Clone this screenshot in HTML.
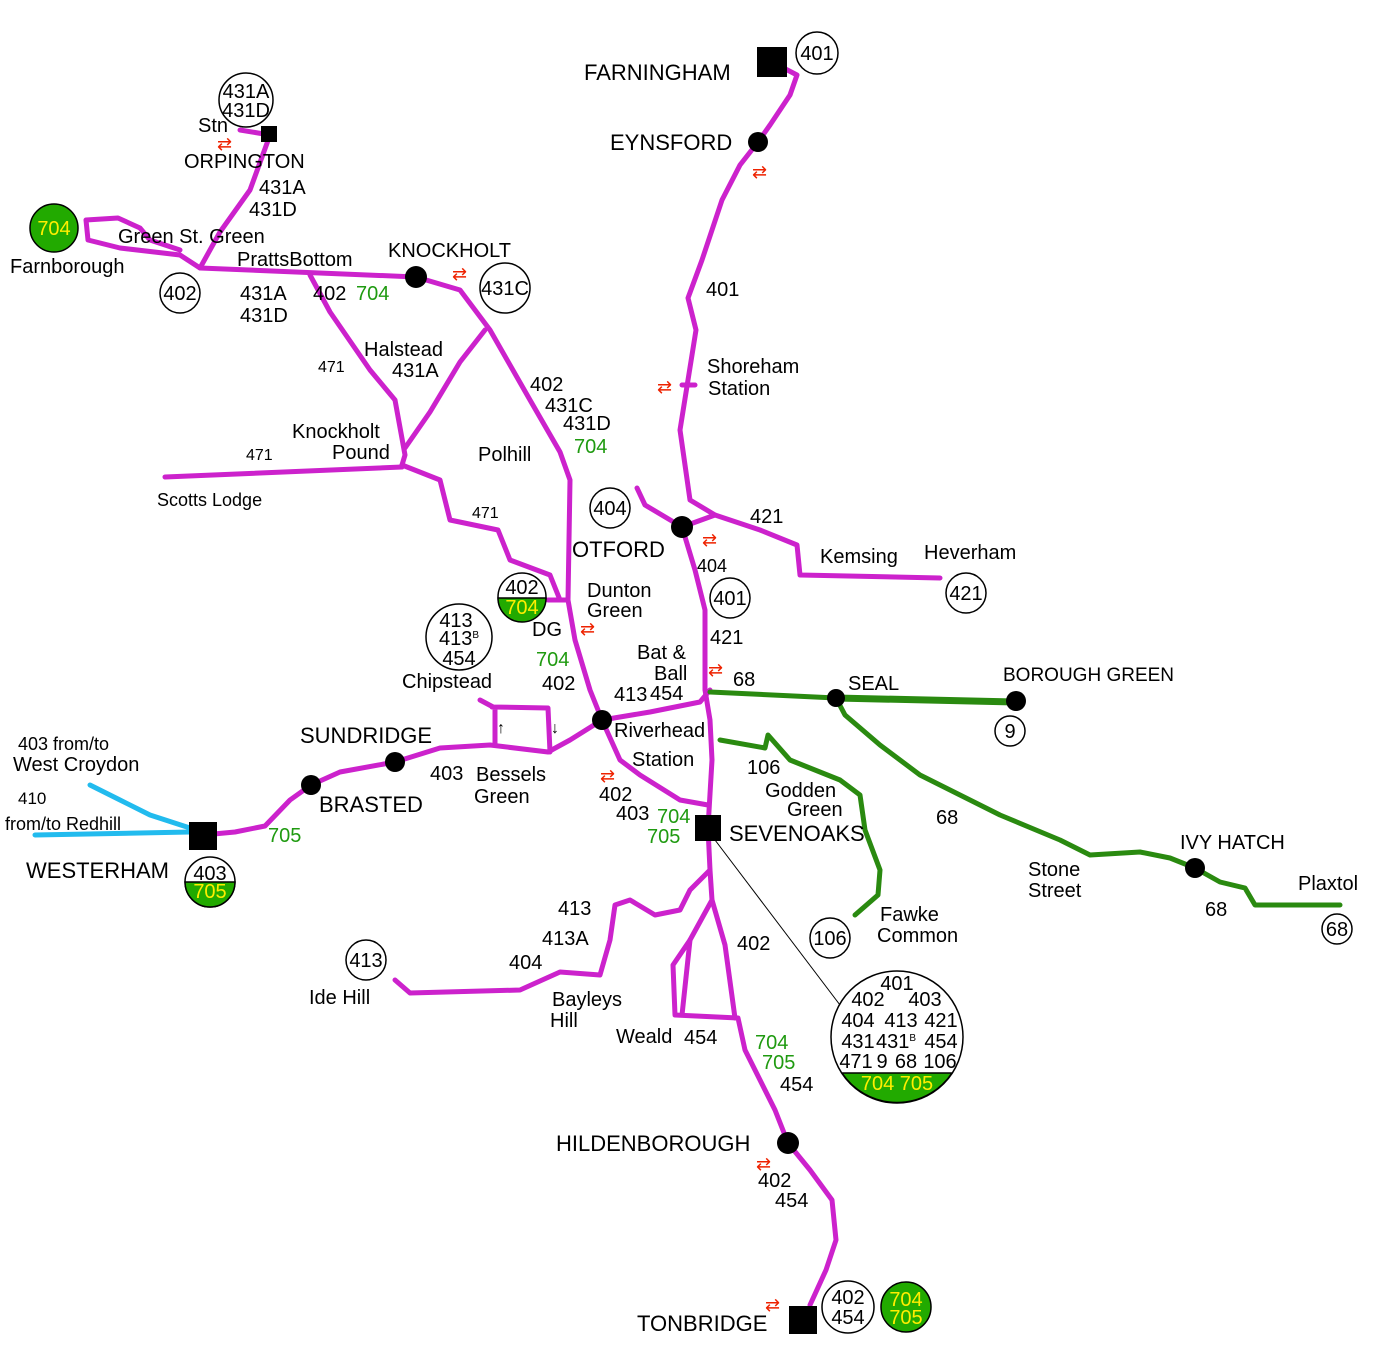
<!DOCTYPE html>
<html><head><meta charset="utf-8"><style>
body{margin:0;background:#fff}
svg text{font-family:"Liberation Sans","DejaVu Sans",sans-serif;font-size:20px;fill:#000}
.m{fill:none;stroke:#cc22cc;stroke-width:5;stroke-linejoin:round;stroke-linecap:round}
.g{fill:none;stroke:#2a8a10;stroke-width:5;stroke-linejoin:round;stroke-linecap:round}
.c{fill:none;stroke:#22bbee;stroke-width:5;stroke-linejoin:round;stroke-linecap:round}
.r{fill:#ee2200;font-size:18px}
.gt{fill:#1f9a10}
.yl{fill:#ffee00}
</style></head><body>
<svg width="1382" height="1354" viewBox="0 0 1382 1354" xmlns="http://www.w3.org/2000/svg">
<rect width="1382" height="1354" fill="#fff"/>
<path class="m" d="M772,62 L797,75 L790,95 L770,125 L758,142 L740,165 L722,200 L702,260 L688,298 L696,330 L688,380 L680,430 L690,500 L715,515 L682,527"/>
<path class="m" d="M682,385 L695,385"/>
<path class="m" d="M682,527 L695,570 L705,610 L705,690 L710,720 L712,760 L708,828"/>
<path class="m" d="M715,515 L760,530 L797,545 L800,575 L940,578"/>
<path class="m" d="M682,527 L645,505 L637,488"/>
<path class="m" d="M602,720 L650,712 L700,702 L710,690"/>
<path class="m" d="M602,720 L620,760 L640,775 L680,800 L708,805"/>
<path class="m" d="M602,720 L590,690 L575,640 L568,600 L570,480 L560,452 L530,400 L490,330 L460,290 L416,277"/>
<path class="m" d="M568,600 L548,600"/>
<path class="m" d="M402,465 L440,480 L450,520 L498,530 L510,560 L550,575 L560,600"/>
<path class="m" d="M416,277 L200,268 L180,255 L120,248 L88,240 L86,220 L118,218 L140,228 L150,240 L180,250"/>
<path class="m" d="M200,268 L220,232 L250,190 L270,135 L240,130"/>
<path class="m" d="M310,275 L330,312 L370,370 L395,400 L405,455 L402,465"/>
<path class="m" d="M485,330 L460,362 L430,412 L405,448"/>
<path class="m" d="M165,477 L402,467"/>
<path class="m" d="M602,720 L570,740 L548,752 L490,745 L440,748 L395,762 L340,772 L311,785 L290,800 L265,826 L235,832 L203,835"/>
<path class="m" d="M480,700 L495,708 L495,745 M492,707 L548,708 L550,752"/>
<path class="m" d="M708,828 L710,870 L690,890 L680,910 L655,915 L630,900 L615,905 L610,940 L600,975 L560,972 L520,990 L410,993 L395,980"/>
<path class="m" d="M710,870 L712,900 L690,940 L673,965 L675,1015 L738,1018 L745,1050 L760,1080 L775,1110 L788,1143 L810,1170 L832,1200 L836,1240 L826,1270 L810,1305"/>
<path class="m" d="M712,900 L725,945 L735,1018 M690,940 L682,1015"/>
<path class="g" d="M710,692 L836,698" />
<path class="g" style="stroke-width:7" d="M836,698 L1015,702"/>
<path class="g" d="M836,698 L845,715 L880,745 L920,775 L1000,815 L1060,840 L1090,855 L1140,852 L1170,858 L1195,868 L1220,882 L1245,888 L1255,905 L1340,905"/>
<path class="g" d="M720,740 L765,748 L768,735 L790,760 L840,780 L860,795 L865,830 L880,870 L878,895 L855,915"/>
<path class="c" d="M90,785 L120,800 L150,815 L190,828 M35,835 L190,832"/>
<line x1="715" y1="840" x2="840" y2="1005" stroke="#000" stroke-width="1"/>
<g fill="#000">
<circle cx="758" cy="142" r="10"/><circle cx="416" cy="277" r="11"/><circle cx="682" cy="527" r="11"/>
<circle cx="602" cy="720" r="10"/><circle cx="836" cy="698" r="9"/><circle cx="1016" cy="701" r="10"/>
<circle cx="395" cy="762" r="10"/><circle cx="311" cy="785" r="10"/><circle cx="1195" cy="868" r="10"/>
<circle cx="788" cy="1143" r="11"/>
<rect x="757" y="47" width="30" height="30"/><rect x="261" y="126" width="16" height="16"/>
<rect x="189" y="822" width="28" height="28"/><rect x="695" y="815" width="26" height="26"/>
<rect x="789" y="1306" width="28" height="28"/>
</g>
<g fill="#fff" stroke="#000" stroke-width="1.5">
<circle cx="817" cy="53" r="21"/><circle cx="246" cy="100" r="27"/><circle cx="180" cy="293" r="20"/>
<circle cx="505" cy="288" r="25"/><circle cx="610" cy="508" r="20"/><circle cx="730" cy="598" r="20"/>
<circle cx="966" cy="593" r="20"/><circle cx="459" cy="637" r="33"/><circle cx="1010" cy="731" r="15"/>
<circle cx="366" cy="960" r="20"/><circle cx="830" cy="938" r="20"/><circle cx="1337" cy="929" r="15"/>
<circle cx="848" cy="1307" r="26"/><circle cx="897" cy="1037" r="66"/>
<circle cx="522" cy="597" r="24"/><circle cx="210" cy="882" r="25"/>
</g>
<g fill="#22aa00" stroke="#000" stroke-width="1.5">
<circle cx="54" cy="228" r="24"/><circle cx="906" cy="1307" r="25"/>
<path d="M498,598 A24,24 0 0 0 546,598 Z"/>
<path d="M185,882 A25,25 0 0 0 235,882 Z"/>
<path d="M842,1073 A66,66 0 0 0 952,1073 Z"/>
</g>
<g text-anchor="middle">
<text x="817" y="60">401</text><text x="246" y="98">431A</text><text x="246" y="117">431D</text>
<text x="180" y="300">402</text><text x="505" y="295">431C</text><text x="610" y="515">404</text>
<text x="730" y="605">401</text><text x="966" y="600">421</text>
<text x="456" y="627">413</text><text x="459" y="645">413<tspan font-size="10" dy="-7">B</tspan></text><text x="459" y="665">454</text>
<text x="1010" y="738">9</text><text x="366" y="967">413</text><text x="830" y="945">106</text><text x="1337" y="936">68</text>
<text x="848" y="1304">402</text><text x="848" y="1324">454</text>
<text x="54" y="235" class="yl">704</text><text x="906" y="1306" class="yl">704</text><text x="906" y="1324" class="yl">705</text>
<text x="522" y="594">402</text><text x="522" y="614" class="yl">704</text>
<text x="210" y="880">403</text><text x="210" y="898" class="yl">705</text>
<text x="897" y="990">401</text>
<text x="868" y="1006">402</text><text x="925" y="1006">403</text>
<text x="858" y="1027">404</text><text x="901" y="1027" fill="#555">413</text><text x="941" y="1027">421</text>
<text x="858" y="1048">431</text><text x="896" y="1048">431<tspan font-size="10" dy="-7">B</tspan></text><text x="941" y="1048">454</text>
<text x="856" y="1068">471</text><text x="882" y="1068">9</text><text x="906" y="1068">68</text><text x="940" y="1068">106</text>
<text x="897" y="1090" class="yl">704 705</text>
</g>
<text x="584" y="80" style="font-size:22px">FARNINGHAM</text>
<text x="610" y="150" style="font-size:22px">EYNSFORD</text>
<text x="184" y="168">ORPINGTON</text>
<text x="388" y="257">KNOCKHOLT</text>
<text x="572" y="557" style="font-size:22px">OTFORD</text>
<text x="300" y="743" style="font-size:22px">SUNDRIDGE</text>
<text x="319" y="812" style="font-size:22px">BRASTED</text>
<text x="26" y="878" style="font-size:22px">WESTERHAM</text>
<text x="729" y="841" style="font-size:22px">SEVENOAKS</text>
<text x="556" y="1151" style="font-size:22px">HILDENBOROUGH</text>
<text x="637" y="1331" style="font-size:22px">TONBRIDGE</text>
<text x="198" y="132">Stn</text>
<text x="259" y="194">431A</text><text x="249" y="216">431D</text>
<text x="118" y="243">Green St. Green</text>
<text x="10" y="273">Farnborough</text>
<text x="237" y="266">PrattsBottom</text>
<text x="240" y="300">431A</text><text x="240" y="322">431D</text>
<text x="313" y="300">402</text><text x="356" y="300" class="gt">704</text>
<text x="364" y="356">Halstead</text><text x="392" y="377">431A</text>
<text x="318" y="372" style="font-size:16px">471</text>
<text x="292" y="438">Knockholt</text><text x="332" y="459">Pound</text>
<text x="246" y="460" style="font-size:16px">471</text>
<text x="157" y="506" style="font-size:18px">Scotts Lodge</text>
<text x="530" y="391">402</text><text x="545" y="412">431C</text><text x="563" y="430">431D</text>
<text x="574" y="453" class="gt">704</text>
<text x="478" y="461">Polhill</text>
<text x="472" y="518" style="font-size:16px">471</text>
<text x="706" y="296" style="font-size:20px">401</text>
<text x="707" y="373">Shoreham</text><text x="708" y="395">Station</text>
<text x="750" y="523">421</text>
<text x="820" y="563">Kemsing</text><text x="924" y="559">Heverham</text>
<text x="697" y="572" style="font-size:18px">404</text>
<text x="710" y="644">421</text>
<text x="587" y="597">Dunton</text><text x="587" y="617">Green</text>
<text x="532" y="636">DG</text>
<text x="536" y="666" class="gt">704</text><text x="542" y="690">402</text>
<text x="637" y="659">Bat &amp;</text><text x="654" y="680">Ball</text>
<text x="614" y="701">413</text><text x="650" y="700">454</text>
<text x="733" y="686">68</text>
<text x="848" y="690">SEAL</text>
<text x="1003" y="681" style="font-size:19px">BOROUGH GREEN</text>
<text x="402" y="688">Chipstead</text>
<text x="497" y="733" style="font-size:16px">↑</text><text x="551" y="733" style="font-size:16px">↓</text>
<text x="614" y="737">Riverhead</text><text x="632" y="766">Station</text>
<text x="430" y="780">403</text><text x="476" y="781">Bessels</text><text x="474" y="803">Green</text>
<text x="18" y="750" style="font-size:18px">403 from/to</text><text x="13" y="771">West Croydon</text>
<text x="18" y="804" style="font-size:17px">410</text><text x="5" y="830" style="font-size:18px">from/to Redhill</text>
<text x="268" y="842" class="gt">705</text>
<text x="599" y="801">402</text><text x="616" y="820">403</text><text x="657" y="823" class="gt">704</text><text x="647" y="843" class="gt">705</text>
<text x="747" y="774">106</text>
<text x="765" y="797">Godden</text><text x="787" y="816">Green</text>
<text x="936" y="824">68</text>
<text x="1028" y="876">Stone</text><text x="1028" y="897">Street</text>
<text x="1180" y="849">IVY HATCH</text>
<text x="1205" y="916">68</text>
<text x="1298" y="890">Plaxtol</text>
<text x="880" y="921">Fawke</text><text x="877" y="942">Common</text>
<text x="558" y="915">413</text><text x="542" y="945">413A</text><text x="509" y="969">404</text>
<text x="737" y="950">402</text>
<text x="309" y="1004">Ide Hill</text>
<text x="552" y="1006">Bayleys</text><text x="550" y="1027">Hill</text>
<text x="616" y="1043">Weald</text><text x="684" y="1044">454</text>
<text x="755" y="1049" class="gt">704</text><text x="762" y="1069" class="gt">705</text>
<text x="780" y="1091">454</text>
<text x="758" y="1187">402</text><text x="775" y="1207">454</text>
<text x="217" y="150" class="r">⇄</text><text x="452" y="280" class="r">⇄</text><text x="752" y="178" class="r">⇄</text>
<text x="657" y="393" class="r">⇄</text><text x="702" y="546" class="r">⇄</text><text x="580" y="635" class="r">⇄</text>
<text x="708" y="676" class="r">⇄</text><text x="600" y="782" class="r">⇄</text><text x="756" y="1170" class="r">⇄</text>
<text x="765" y="1311" class="r">⇄</text>
</svg>
</body></html>
